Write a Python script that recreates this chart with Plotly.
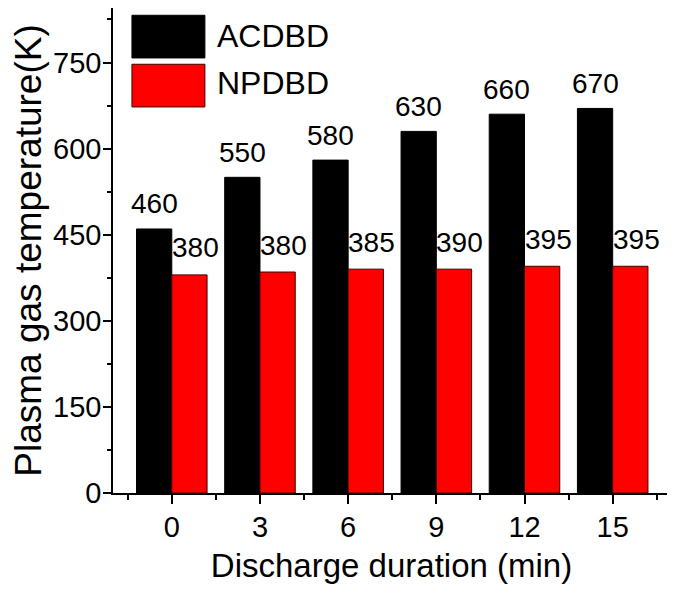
import plotly.graph_objects as go

durations = [0, 3, 6, 9, 12, 15]
acdbd = [460, 550, 580, 630, 660, 670]
npdbd = [380, 385, 390, 390, 395, 395]
acdbd_labels = ["460", "550", "580", "630", "660", "670"]
npdbd_labels = ["380", "380", "385", "390", "395", "395"]
y_ticks = [0, 150, 300, 450, 600, 750]

font = "Liberation Sans, Arial"

bargap = 0.2
step = 3
half = step * (1 - bargap) / 4  # centre offset of each bar inside its group

fig = go.Figure()
fig.add_trace(go.Bar(x=durations, y=acdbd, name="ACDBD",
                     marker=dict(color="black", line=dict(color="black", width=1))))
fig.add_trace(go.Bar(x=durations, y=npdbd, name="NPDBD",
                     marker=dict(color="#ff0000", line=dict(color="#400000", width=1))))

for d, v, t in zip(durations, acdbd, acdbd_labels):
    fig.add_annotation(x=d - half, y=v, text=t, showarrow=False, yanchor="middle", yshift=25,
                       font=dict(family=font, size=28, color="black"))
# nudged right a little so the wider font does not run onto the black bar
for d, v, t in zip(durations, npdbd, npdbd_labels):
    fig.add_annotation(x=d + half + 0.2, y=v, text=t, showarrow=False, yanchor="middle", yshift=27,
                       font=dict(family=font, size=28, color="black"))

# legend drawn by hand, the swatches are large in the original
fig.add_shape(type="rect", xref="paper", yref="paper", x0=0.034, x1=0.165, y0=0.897, y1=0.985,
              fillcolor="black", line=dict(color="black", width=1))
fig.add_shape(type="rect", xref="paper", yref="paper", x0=0.034, x1=0.165, y0=0.796, y1=0.884,
              fillcolor="#ff0000", line=dict(color="#400000", width=1))
fig.add_annotation(xref="paper", yref="paper", x=0.183, y=0.943, text="ACDBD", showarrow=False,
                   xanchor="left", yanchor="middle", font=dict(family=font, size=32, color="black"))
fig.add_annotation(xref="paper", yref="paper", x=0.183, y=0.845, text="NPDBD", showarrow=False,
                   xanchor="left", yanchor="middle", font=dict(family=font, size=32, color="black"))

# page body adds ~8px, so the figure is a bit smaller than the window
fig.update_layout(
    width=667, height=587,
    margin=dict(l=105, r=5, t=0, b=102, autoexpand=False),
    paper_bgcolor="white", plot_bgcolor="white",
    barmode="group", bargap=bargap, bargroupgap=0,
    showlegend=False,
)
fig.update_xaxes(
    range=[-2.0, 16.95], tickvals=durations, ticktext=[str(d) for d in durations],
    ticks="outside", ticklen=9, tickwidth=1.5, tickcolor="black",
    minor=dict(tickvals=[d - 1.5 for d in durations] + [16.5], ticks="outside", ticklen=5,
               tickwidth=1.5, tickcolor="black"),
    showline=True, linecolor="black", linewidth=1.5, mirror=True, showgrid=False,
    automargin=False, ticklabelstandoff=-2,
    tickfont=dict(family=font, size=29, color="black"),
    title=dict(text="Discharge duration (min)", font=dict(family=font, size=33, color="black"),
               standoff=12),
)
fig.update_yaxes(
    range=[0, 845], tickvals=y_ticks,
    ticks="outside", ticklen=8, tickwidth=1.5, tickcolor="black",
    minor=dict(dtick=75, ticks="outside", ticklen=4, tickwidth=1.5, tickcolor="black"),
    showline=True, linecolor="black", linewidth=1.5, mirror=True, showgrid=False, zeroline=False,
    automargin=False, ticklabelstandoff=-4,
    tickfont=dict(family=font, size=29, color="black"),
    title=dict(text="Plasma gas temperature(K)", font=dict(family=font, size=37, color="black"),
               standoff=0),
)

fig.write_html("out.html")
